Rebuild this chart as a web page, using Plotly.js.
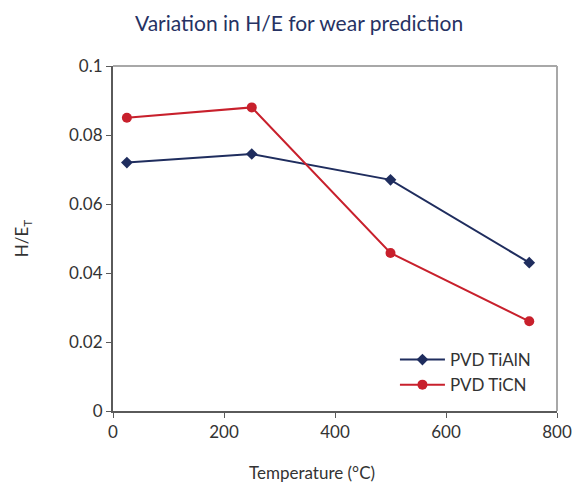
<!DOCTYPE html>
<html>
<head>
<meta charset="utf-8">
<script src="https://cdn.plot.ly/plotly-3.0.1.min.js"></script>
<style>html,body{margin:0;padding:0;background:#fff;}#chart{width:573px;height:486px;}</style>
</head>
<body>
<div id="chart"></div>
<script>
const temperature = [25, 250, 500, 750];
const tialn = [0.072, 0.0745, 0.067, 0.043];
const ticn = [0.085, 0.088, 0.0458, 0.026];
const seriesNames = ["PVD TiAlN", "PVD TiCN"];
const xTicks = [0, 200, 400, 600, 800];
const yTicks = [0, 0.02, 0.04, 0.06, 0.08, 0.1];
const yTickText = ["0", "0.02", "0.04", "0.06", "0.08", "0.1"];
const xTitle = "Temperature (°C)";

const traces = [
  {x: temperature, y: tialn, name: seriesNames[0], type: "scatter", mode: "lines+markers",
   line: {color: "#1f2d5e", width: 2}, marker: {symbol: "diamond", size: 9, color: "#1f2d5e"}},
  {x: temperature, y: ticn, name: seriesNames[1], type: "scatter", mode: "lines+markers",
   line: {color: "#c8202c", width: 2}, marker: {symbol: "circle", size: 10, color: "#c8202c"}}
];

const layout = {
  width: 573, height: 486,
  margin: {l: 113, r: 16, t: 66, b: 75},
  paper_bgcolor: "#fff", plot_bgcolor: "#fff",
  font: {family: "Lato, 'Open Sans', sans-serif", size: 16, color: "#333"},
  title: {text: "Variation in H/E for wear prediction", x: 0.522, xanchor: "center", y: 0.952, yanchor: "middle",
    font: {size: 21, color: "#263263", family: "Lato, 'Open Sans', sans-serif"}},
  xaxis: {range: [0, 800], tickvals: xTicks, ticktext: xTicks.map(String), showgrid: false, zeroline: false,
    showline: true, linecolor: "#5a5a5a", linewidth: 2, ticks: "outside", ticklen: 5, tickcolor: "#5a5a5a",
    tickfont: {size: 17, color: "#333"}},
  yaxis: {range: [0, 0.1], tickvals: yTicks, ticktext: yTickText, showgrid: false, zeroline: false,
    showline: true, linecolor: "#5a5a5a", linewidth: 2, ticks: "outside", ticklen: 5, tickcolor: "#5a5a5a",
    tickfont: {size: 17, color: "#333"},
    title: {text: "H/E<sub>T</sub>", standoff: 36, font: {size: 17, color: "#333"}}},
  legend: {x: 0.635, y: 0.2, xanchor: "left", yanchor: "top", bgcolor: "rgba(0,0,0,0)",
    font: {size: 17, color: "#333"}, tracegroupgap: 0, itemwidth: 45},
  annotations: [
    {text: xTitle, xref: "paper", yref: "paper", x: 0.448, y: -0.177, xanchor: "center", yanchor: "middle",
     showarrow: false, font: {size: 17, color: "#333"}}
  ],
  shapes: [
    {type: "line", xref: "paper", yref: "paper", x0: 0, x1: 1, y0: 1, y1: 1, line: {color: "#a8a8a8", width: 2}},
    {type: "line", xref: "paper", yref: "paper", x0: 1, x1: 1, y0: 0, y1: 1, line: {color: "#a8a8a8", width: 2}}
  ]
};

Plotly.newPlot("chart", traces, layout, {displayModeBar: false, staticPlot: true});
</script>
</body>
</html>
